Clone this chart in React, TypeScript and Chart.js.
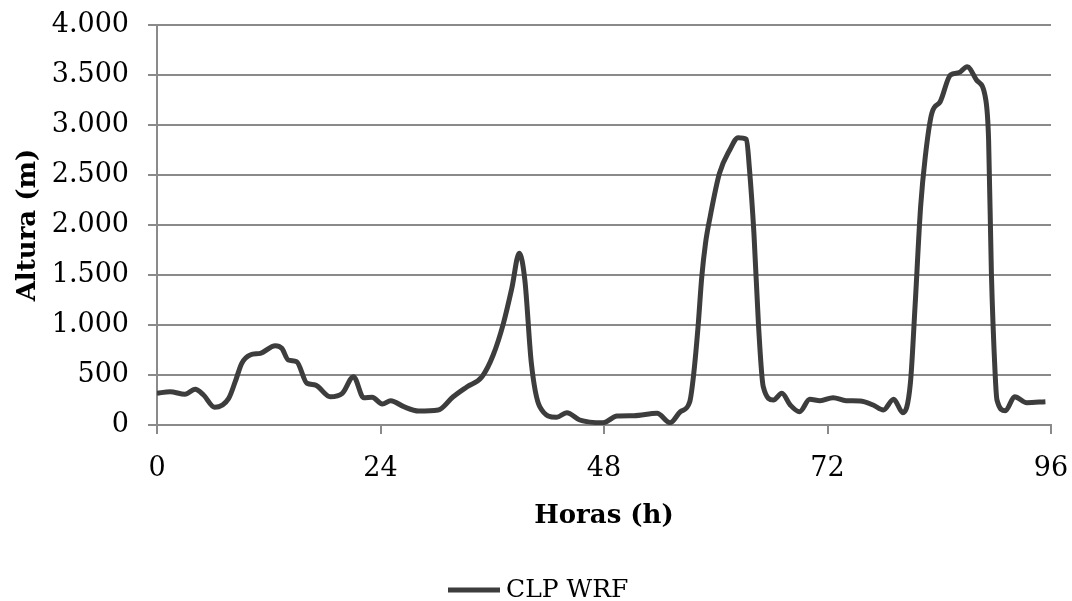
import React, { useEffect, useRef } from "react";
import { Chart, registerables } from "chart.js";

Chart.register(...registerables);

const hours: number[] = [0, 1.4, 3.0, 4.1, 5, 6.2, 7.7, 8.4, 9.1, 10, 11.1, 12.7, 13.4, 14.1, 15, 16.1, 17, 18.6, 19.9, 21.1, 22.2, 23.1, 24.2, 25.1, 26.5, 28.1, 30.2, 31.8, 33.3, 34.9, 36.1, 37.2, 38.1, 38.9, 39.5, 40.2, 41.1, 42.9, 44, 45.4, 47.9, 49.4, 51.2, 53.7, 55.1, 56.2, 57.2, 57.6, 58.1, 58.5, 58.9, 59.4, 60.4, 61.5, 62.4, 63.3, 63.6, 64.1, 64.6, 65.1, 66.2, 67.1, 68, 69, 70.1, 71.2, 72.6, 74, 75.5, 76.9, 78, 79.1, 80.1, 80.9, 81.4, 82, 82.5, 83.2, 84.1, 85.2, 86.1, 87, 88, 89, 89.3, 89.6, 90, 90.2, 91.1, 92.1, 93.4, 95.4];

const clpWrf: number[] = [317, 333, 307, 357, 300, 177, 267, 433, 617, 700, 717, 793, 767, 650, 633, 417, 400, 283, 317, 483, 273, 277, 210, 243, 183, 140, 150, 283, 383, 483, 700, 1017, 1367, 1717, 1450, 617, 183, 77, 123, 50, 23, 90, 93, 117, 23, 133, 230, 483, 983, 1483, 1817, 2083, 2517, 2750, 2873, 2857, 2583, 1917, 983, 383, 250, 317, 200, 133, 257, 243, 273, 243, 240, 200, 150, 257, 123, 417, 1183, 2183, 2683, 3117, 3233, 3500, 3523, 3583, 3450, 3250, 2850, 1517, 517, 250, 143, 283, 223, 233];

const seriesLabel = "CLP WRF";
const xTitle = "Horas (h)";
const yTitle = "Altura (m)";
const xTicks: number[] = [0, 24, 48, 72, 96];
const yTicks: number[] = [0, 500, 1000, 1500, 2000, 2500, 3000, 3500, 4000];

const fmt = (v: number) =>
  v >= 1000 ? Math.floor(v / 1000) + "." + String(v % 1000).padStart(3, "0") : String(v);

const LINE = "#3d3d3d";
const GRID = "#8a8a8a";
const FONT = "'DejaVu Serif', serif";

const legendPlugin = {
  id: "customLegend",
  afterDraw(chart: any) {
    const ctx = chart.ctx;
    ctx.save();
    const y = 590;
    ctx.strokeStyle = LINE;
    ctx.lineWidth = 5;
    ctx.beginPath();
    ctx.moveTo(448, y);
    ctx.lineTo(500, y);
    ctx.stroke();
    ctx.fillStyle = "#000";
    ctx.font = `25px ${FONT}`;
    ctx.textBaseline = "middle";
    ctx.textAlign = "left";
    ctx.fillText(seriesLabel, 506, y);
    ctx.restore();
  },
};

export default function App() {
  const ref = useRef<HTMLCanvasElement>(null);
  useEffect(() => {
    document.body.style.margin = "0";
    const chart = new Chart(ref.current!, {
      type: "line",
      data: {
        datasets: [
          {
            label: seriesLabel,
            data: hours.map((h, i) => ({ x: h, y: clpWrf[i] })),
            borderColor: LINE,
            backgroundColor: LINE,
            borderWidth: 5,
            pointRadius: 0,
            cubicInterpolationMode: "monotone",
            fill: false,
          },
        ],
      },
      plugins: [legendPlugin],
      options: {
        animation: false,
        responsive: false,
        layout: { padding: { top: 25, right: 21, left: 0, bottom: 35 } },
        plugins: {
          tooltip: { enabled: false },
          legend: { display: false },
        },
        scales: {
          x: {
            type: "linear",
            min: 0,
            max: 96,
            afterBuildTicks: (s: any) => {
              s.ticks = xTicks.map((v) => ({ value: v }));
            },
            afterFit: (s: any) => {
              s.height = 141;
              s.paddingLeft = 0;
              s.paddingRight = 0;
            },
            grid: {
              display: true,
              drawOnChartArea: false,
              drawTicks: true,
              tickLength: 9,
              color: GRID,
              lineWidth: 2,
            },
            border: { display: true, color: GRID, width: 2 },
            ticks: {
              color: "#000",
              font: { family: FONT, size: 27 },
              padding: 19,
              maxRotation: 0,
            },
            title: {
              display: true,
              text: xTitle,
              color: "#000",
              font: { family: FONT, size: 26, weight: "bold" },
              padding: { top: 0, bottom: 34 },
            },
          },
          y: {
            type: "linear",
            min: 0,
            max: 4000,
            afterBuildTicks: (s: any) => {
              s.ticks = yTicks.map((v) => ({ value: v }));
            },
            afterFit: (s: any) => {
              s.width = 157;
              s.paddingTop = 0;
              s.paddingBottom = 0;
            },
            grid: {
              color: GRID,
              lineWidth: 2,
              drawTicks: true,
              tickLength: 9,
            },
            border: { display: true, color: GRID, width: 2 },
            ticks: {
              color: "#000",
              font: { family: FONT, size: 27 },
              padding: 19,
              callback: (v: any) => fmt(Number(v)),
            },
            title: {
              display: true,
              text: yTitle,
              color: "#000",
              font: { family: FONT, size: 26, weight: "bold" },
              padding: { top: 13, bottom: 0 },
            },
          },
        },
      },
    } as any);
    return () => chart.destroy();
  }, []);
  return (
    <div style={{ position: "absolute", left: 0, top: 0, width: 1072, height: 601, background: "#fff" }}>
      <canvas ref={ref} width={1072} height={601} style={{ display: "block" }} />
    </div>
  );
}
